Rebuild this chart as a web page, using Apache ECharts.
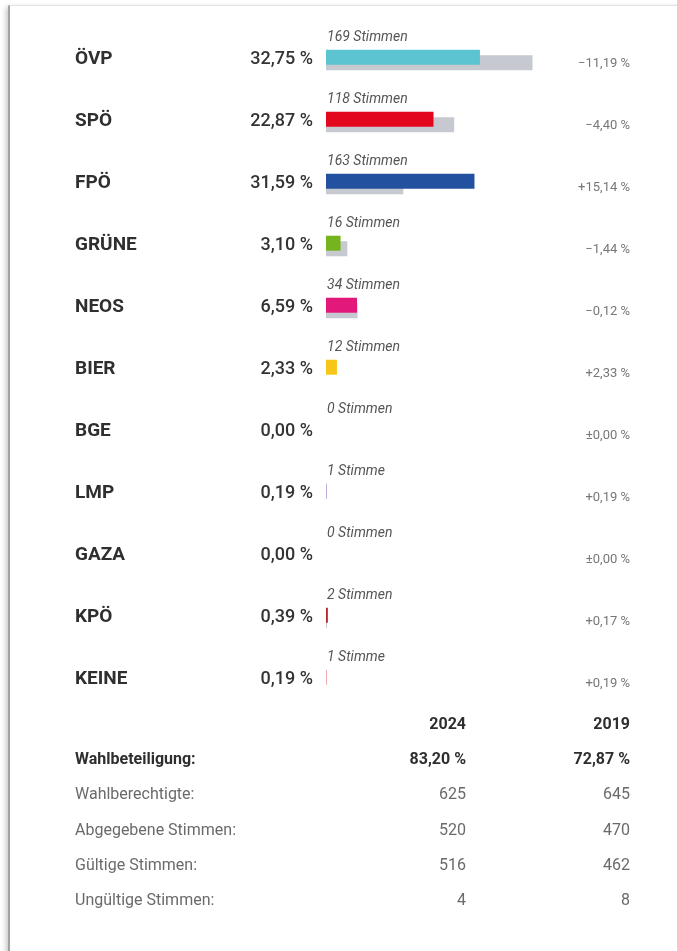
<!DOCTYPE html>
<html>
<head>
<meta charset="utf-8">
<script src="https://cdn.jsdelivr.net/npm/echarts@6/dist/echarts.min.js"></script>
<style>
  html, body { margin: 0; padding: 0; background: #fff; }
  #chart { width: 677px; height: 951px; }
  #frame {
    position: absolute; left: 8px; top: 5px; width: 690px; height: 970px;
    border-left: 2px solid #a2a2a2; border-top: 1px solid #e3e3e3;
    box-shadow: -2px 2px 5px rgba(0,0,0,0.22); pointer-events: none;
  }
</style>
</head>
<body>
<div id="chart"></div>
<div id="frame"></div>
<script>
const parties = ["ÖVP", "SPÖ", "FPÖ", "GRÜNE", "NEOS", "BIER", "BGE", "LMP", "GAZA", "KPÖ", "KEINE"];
const share2024 = [32.75, 22.87, 31.59, 3.10, 6.59, 2.33, 0.00, 0.19, 0.00, 0.39, 0.19];
const share2019 = [43.94, 27.27, 16.45, 4.54, 6.71, 0.00, 0.00, 0.00, 0.00, 0.22, 0.00];
const votes = [169, 118, 163, 16, 34, 12, 0, 1, 0, 2, 1];
const changes = [-11.19, -4.40, 15.14, -1.44, -0.12, 2.33, 0.00, 0.19, 0.00, 0.17, 0.19];
const partyColors = ["#5cc3d0", "#e3071d", "#23509f", "#76b41e", "#e2197a", "#f6c619", "#999999", "#b7a3d6", "#999999", "#b3262e", "#f2a2aa"];

const tableYears = ["2024", "2019"];
const tableLabels = ["Wahlbeteiligung:", "Wahlberechtigte:", "Abgegebene Stimmen:", "Gültige Stimmen:", "Ungültige Stimmen:"];
const table2024 = ["83,20 %", "625", "520", "516", "4"];
const table2019 = ["72,87 %", "645", "470", "462", "8"];

const FONT = "Roboto, 'Noto Sans', sans-serif";
const fmt = (v) => v.toFixed(2).replace(".", ",");
const fmtChange = (v) => (v > 0 ? "+" : v < 0 ? "\u2212" : "\u00b1") + fmt(Math.abs(v)) + " %";

const chart = echarts.init(document.getElementById("chart"));

// bottom table as graphic text
const tableEls = [];
const colX = [466, 630];
tableYears.forEach((y, i) => {
  tableEls.push({
    type: "text", x: colX[i], y: 725,
    style: { text: y, align: "right", verticalAlign: "middle", font: "bold 16px " + FONT, fill: "#2e2e2e" },
  });
});
tableLabels.forEach((lab, r) => {
  const y = 760 + r * 35.3;
  const bold = r === 0;
  const f = (bold ? "bold " : "") + "16px " + FONT;
  tableEls.push({
    type: "text", x: 75, y,
    style: { text: lab, align: "left", verticalAlign: "middle", font: f, fill: bold ? "#2e2e2e" : "#6a6a6a" },
  });
  [table2024[r], table2019[r]].forEach((v, c) => {
    tableEls.push({
      type: "text", x: colX[c], y,
      style: { text: v, align: "right", verticalAlign: "middle", font: f, fill: bold ? "#2e2e2e" : "#6a6a6a" },
    });
  });
});

chart.setOption({
  animation: false,
  grid: { left: 326, top: 29, width: 235, height: 682, outerBoundsMode: "none" },
  xAxis: { type: "value", min: 0, max: 50, show: false },
  yAxis: [
    {
      type: "category", data: parties, inverse: true,
      axisLine: { show: false }, axisTick: { show: false }, splitLine: { show: false },
      axisLabel: {
        margin: 13, align: "right",
        formatter: (v, i) => `{n|${v}}{p|${fmt(share2024[i])} %}`,
        rich: {
          n: { width: 160, align: "left", fontSize: 19, fontWeight: "bold", color: "#2f2f2f", fontFamily: FONT, padding: [0, 0, 2, 0] },
          p: { width: 78, align: "right", fontSize: 18, fontWeight: 500, color: "#333", fontFamily: FONT, padding: [0, 0, 2, 0] },
        },
      },
    },
    {
      type: "category", data: parties, inverse: true, position: "right",
      axisLine: { show: false }, axisTick: { show: false }, splitLine: { show: false },
      axisLabel: {
        margin: 69, align: "right",
        formatter: (v, i) => `{c|${fmtChange(changes[i])}}`,
        rich: {
          c: { fontSize: 13, color: "#777", fontFamily: FONT, padding: [8, 0, 0, 0] },
        },
      },
    },
  ],
  series: [
    {
      name: "2024", type: "bar", barWidth: 15, barGap: "-63%", z: 3,
      data: share2024.map((v, i) => ({ value: v, itemStyle: { color: partyColors[i] } })),
      label: {
        show: true, position: [1, -5], align: "left", verticalAlign: "bottom",
        fontSize: 14, fontStyle: "italic", color: "#555", fontFamily: FONT,
        formatter: (p) => votes[p.dataIndex] + (votes[p.dataIndex] === 1 ? " Stimme" : " Stimmen"),
      },
    },
    {
      name: "2019", type: "bar", barWidth: 15, z: 2,
      data: share2019,
      itemStyle: { color: "#c6c9cf" },
    },
  ],
  graphic: tableEls,
});
</script>
</body>
</html>
